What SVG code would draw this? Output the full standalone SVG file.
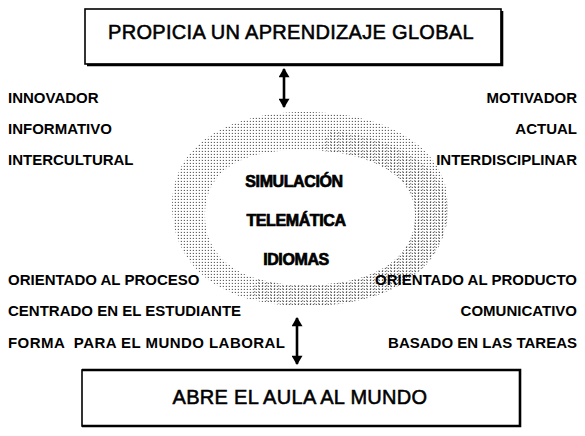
<svg xmlns="http://www.w3.org/2000/svg" width="585" height="436" viewBox="0 0 585 436">
  <defs>
    <style>
      .box { fill: #ffffff; stroke: #000; stroke-width: 1.6; }
      .shadow { fill: none; stroke: #000; stroke-width: 2.6; }
      .title { font-family: "Liberation Sans", Arial, sans-serif; font-size: 20px; fill: #000; stroke: #000; stroke-width: 0.55; text-anchor: middle; letter-spacing: 0.3px; }
      .lbl { font-family: "Liberation Sans", Arial, sans-serif; font-size: 15px; font-weight: bold; fill: #000; }
      .lft { text-anchor: start; }
      .rgt { text-anchor: end; }
      .core { font-family: "Liberation Sans", Arial, sans-serif; font-size: 16px; font-weight: bold; fill: #000; stroke: #000; stroke-width: 0.7; text-anchor: middle; letter-spacing: -0.4px; }
      .shaft { stroke: #000; stroke-width: 2.6; fill: none; }
    </style>
    <pattern id="dots" width="3" height="3" patternUnits="userSpaceOnUse">
      <rect x="0.8" y="0.9" width="1.1" height="1" fill="#000"/>
    </pattern>
    <pattern id="dots2" width="4" height="3" patternUnits="userSpaceOnUse">
      <rect x="2" y="0.2" width="1.3" height="1.1" fill="#000"/>
    </pattern>
    <marker id="head" viewBox="0 0 10 12" refX="9" refY="6" markerWidth="10" markerHeight="11" markerUnits="userSpaceOnUse" orient="auto-start-reverse">
      <path d="M0,0 L10,6 L0,12 z" fill="#000"/>
    </marker>
  </defs>

  <g id="ellipse">
    <path d="M305 112 C390 112 448 150 448 205 C448 262 400 306 305 306 C215 306 172 262 172 205 C172 150 220 112 305 112 Z" fill="url(#dots)" opacity="0.75"/>
    <path d="M330 130 C410 140 448 175 448 210 C448 262 400 306 305 306 C280 306 260 300 250 295 Z" fill="url(#dots2)" opacity="0.5"/>
    <path d="M300 150 C370 150 415 175 415 215 C415 258 375 285 305 285 C240 285 205 258 205 215 C205 175 235 150 300 150 Z" fill="#ffffff"/>
    <text class="core" x="294" y="187">SIMULACIÓN</text>
    <text class="core" x="296" y="226">TELEMÁTICA</text>
    <text class="core" x="296" y="265">IDIOMAS</text>
  </g>

  <g id="top-box">
    <rect class="box" x="85" y="9" width="416" height="55"/>
    <polyline class="shadow" points="87,65 502,65 502,11"/>
    <text class="title" x="291" y="39">PROPICIA UN APRENDIZAJE GLOBAL</text>
  </g>

  <g id="bottom-box">
    <rect class="box" x="82" y="370" width="438" height="56"/>
    <polyline class="shadow" points="82,370 520,370 520,426 82,426"/>
    <text class="title" x="300" y="404">ABRE EL AULA AL MUNDO</text>
  </g>

  <g id="labels-left">
    <text class="lbl lft" x="8" y="103">INNOVADOR</text>
    <text class="lbl lft" x="8" y="134">INFORMATIVO</text>
    <text class="lbl lft" x="8" y="165">INTERCULTURAL</text>
    <text class="lbl lft" x="8" y="285">ORIENTADO AL PROCESO</text>
    <text class="lbl lft" x="8" y="316">CENTRADO EN EL ESTUDIANTE</text>
    <text class="lbl lft" x="8" y="348" xml:space="preserve" textLength="277" lengthAdjust="spacing">FORMA  PARA EL MUNDO LABORAL</text>
  </g>

  <g id="labels-right">
    <text class="lbl rgt" x="577" y="103">MOTIVADOR</text>
    <text class="lbl rgt" x="577" y="134">ACTUAL</text>
    <text class="lbl rgt" x="577" y="165">INTERDISCIPLINAR</text>
    <text class="lbl rgt" x="577" y="285">ORIENTADO AL PRODUCTO</text>
    <text class="lbl rgt" x="577" y="316">COMUNICATIVO</text>
    <text class="lbl rgt" x="577" y="348">BASADO EN LAS TAREAS</text>
  </g>

  <g id="connectors">
    <line id="arrow-top" class="shaft" x1="284" y1="69" x2="284" y2="107" marker-start="url(#head)" marker-end="url(#head)"/>
    <line id="arrow-bottom" class="shaft" x1="297" y1="318" x2="297" y2="364" marker-start="url(#head)" marker-end="url(#head)"/>
  </g>
</svg>
